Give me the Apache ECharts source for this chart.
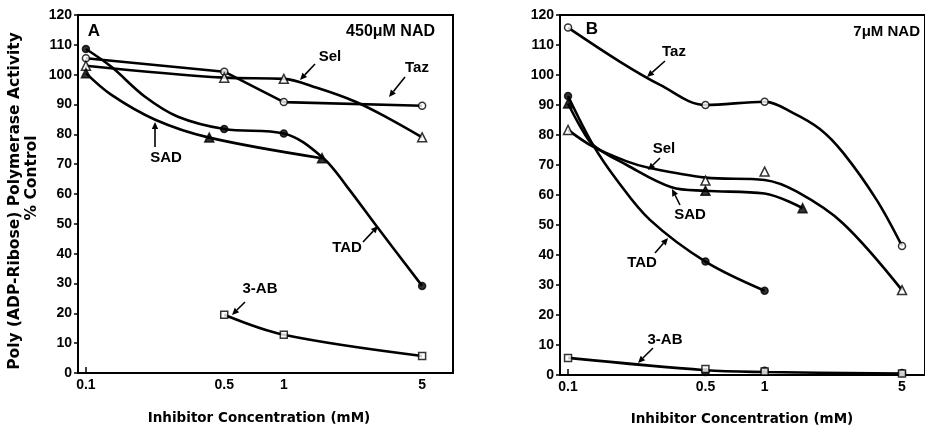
<!DOCTYPE html>
<html><head><meta charset="utf-8">
<script src="https://cdn.jsdelivr.net/npm/echarts@6/dist/echarts.min.js"></script>
<style>html,body{margin:0;padding:0;background:#fff}#c{width:925px;height:430px}</style>
</head><body><div id="c"></div>
<script>
// ---- data (concentration in mM, activity in % control) ----
const xTickLabels = [0.1, 0.5, 1, 5];
const concAll = [0.1, 0.5, 1, 5];

// Panel A: 450 uM NAD — measured points
const tazA = [105.5, 101, 90.8, 89.6];
const selA = [103, 99, 98.6, 79];
const tadA = [108.6, 81.8, 80.3, 29.2];
const sadAConc = [0.1, 0.42, 1.56];
const sadA = [100.5, 78.9, 72];
const abAConc = [0.5, 1, 5];
const abA = [19.5, 12.8, 5.7];
// Panel A — drawn curves
const selACurveConc = [0.1, 0.5, 1, 1.47, 2.29, 3.33, 5];
const selACurve = [103, 99, 98.6, 95.6, 91, 85.6, 79];
const tadACurveConc = [0.1, 0.134, 0.199, 0.292, 0.5, 1, 1.58, 2.09, 2.96, 5];
const tadACurve = [108.6, 102.7, 92.6, 85.9, 81.8, 80.3, 72.1, 62.4, 49, 29.2];
const sadACurveConc = [0.1, 0.134, 0.224, 0.42, 1.56];
const sadACurve = [100.5, 93.3, 84.9, 78.9, 72];
const abACurveConc = [0.5, 1, 5];
const abACurve = [19.5, 12.8, 5.7];

// Panel B: 7 uM NAD — measured points
const tazB = [115.8, 90, 91.1, 43];
const selB = [81.7, 64.8, 67.8, 28.3];
const sadBConc = [0.1, 0.5, 1.56];
const sadB = [90.5, 61.4, 55.6];
const tadBConc = [0.1, 0.5, 1];
const tadB = [93, 37.8, 28.1];
const abB = [5.7, 2, 1.2, 0.5];
const filledBConc = [0.5, 1, 5];
const filledB = [1, 1.4, 0.7];
// Panel B — drawn curves
const tazBCurveConc = [0.1, 0.184, 0.294, 0.5, 1, 1.4, 1.91, 2.5, 3.72, 5];
const tazBCurve = [115.8, 104.4, 96.7, 90, 91.1, 87.3, 82, 74.2, 58.3, 43];
const selBCurveConc = [0.1, 0.134, 0.199, 0.26, 0.5, 1, 1.46, 2.5, 5];
const selBCurve = [81.7, 76.1, 71.2, 69, 65.8, 65, 61.1, 50.6, 28.3];
const sadBCurveConc = [0.1, 0.115, 0.134, 0.199, 0.336, 0.5, 1, 1.56];
const sadBCurve = [90.5, 83, 76.7, 70, 62.6, 61.4, 60.5, 55.6];
const tadBCurveConc = [0.1, 0.134, 0.177, 0.261, 0.5, 1];
const tadBCurve = [93, 76.7, 65, 51.7, 37.8, 28.1];
const abBCurveConc = [0.1, 0.5, 1, 5];
const abBCurve = [5.7, 1.6, 1, 0.5];

const FONT = "'Liberation Sans', Arial, sans-serif";
const TFONT = "'DejaVu Sans', sans-serif";
const lg = v => Math.log10(v);
const pts = (xs, ys) => xs.map((x, i) => [lg(x), ys[i]]);

function curveS(idx, xs, ys, smooth) {
  return {
    type: 'line', xAxisIndex: idx, yAxisIndex: idx,
    data: pts(xs, ys), smooth: smooth, showSymbol: false, symbol: 'none',
    lineStyle: { color: '#000', width: 2.6 },
    emphasis: { disabled: true }, animation: false, z: 3
  };
}
function markS(idx, xs, ys, sym, filled) {
  const size = sym === 'triangle' ? 9 : 7;
  return {
    type: 'scatter', xAxisIndex: idx, yAxisIndex: idx, data: pts(xs, ys),
    symbol: sym, symbolSize: size,
    itemStyle: { color: filled ? '#000' : '#fff', borderColor: '#000', borderWidth: 1.5 },
    emphasis: { disabled: true }, animation: false, z: 4
  };
}

function xAx(idx, min, max) {
  return {
    type: 'value', gridIndex: idx, min, max,
    axisLine: { show: true, onZero: false, lineStyle: { color: '#000', width: 2 } },
    axisTick: { show: true, inside: true, length: 6, customValues: [lg(0.1)], lineStyle: { color: '#000', width: 1.5 } },
    axisLabel: {
      customValues: xTickLabels.map(lg),
      formatter: v => String(Number(Math.pow(10, v).toPrecision(2))),
      color: '#000', fontFamily: FONT, fontWeight: 'bold', fontSize: 14, margin: 5
    },
    splitLine: { show: false }
  };
}
function yAx(idx) {
  return {
    type: 'value', gridIndex: idx, min: 0, max: 120, interval: 10,
    axisLine: { show: true, onZero: false, lineStyle: { color: '#000', width: 2 } },
    axisTick: { show: true, inside: false, length: 4, lineStyle: { color: '#000', width: 1.5 } },
    axisLabel: { color: '#000', fontFamily: FONT, fontWeight: 'bold', fontSize: 14, margin: 6 },
    splitLine: { show: false }
  };
}

function txt(x, y, s, size, align = 'center', rot = 0, fam = FONT) {
  return { type: 'text', x, y, rotation: rot, z: 10,
    style: { text: s, fill: '#000', font: `bold ${size}px ${fam}`, align, verticalAlign: 'middle' } };
}
function arrow(x1, y1, x2, y2) {
  const a = Math.atan2(y2 - y1, x2 - x1), L = 7, W = 3.2;
  const bx = x2 - L * Math.cos(a), by = y2 - L * Math.sin(a);
  const px = -Math.sin(a) * W, py = Math.cos(a) * W;
  return [
    { type: 'line', z: 10, shape: { x1, y1, x2: bx, y2: by }, style: { stroke: '#000', lineWidth: 1.6 } },
    { type: 'polygon', z: 10, shape: { points: [[x2, y2], [bx + px, by + py], [bx - px, by - py]] }, style: { fill: '#000' } }
  ];
}

const graphics = [
  txt(15, 201, 'Poly (ADP-Ribose) Polymerase Activity', 15.5, 'center', Math.PI / 2, TFONT),
  txt(32, 178, '% Control', 15.5, 'center', Math.PI / 2, TFONT),
  txt(259, 418, 'Inhibitor Concentration (mM)', 13.5, 'center', 0, TFONT),
  txt(742, 419, 'Inhibitor Concentration (mM)', 13.5, 'center', 0, TFONT),
  txt(94, 31, 'A', 17),
  txt(435, 32, '450μM NAD', 16, 'right'),
  txt(592, 29, 'B', 17),
  txt(920, 32, '7μM NAD', 15, 'right'),
  // panel A labels
  txt(330, 57, 'Sel', 15), ...arrow(315, 64, 300, 80),
  txt(417, 68, 'Taz', 15), ...arrow(405, 77, 389, 97),
  txt(166, 158, 'SAD', 15), ...arrow(155, 147, 155, 122),
  txt(347, 248, 'TAD', 15), ...arrow(363, 242, 378, 226),
  txt(260, 289, '3-AB', 15), ...arrow(245, 302, 232, 315),
  // panel B labels
  txt(674, 52, 'Taz', 15), ...arrow(665, 61, 647, 77),
  txt(664, 149, 'Sel', 15), ...arrow(660, 158, 648, 170),
  txt(690, 215, 'SAD', 15), ...arrow(680, 205, 672, 189),
  txt(642, 263, 'TAD', 15), ...arrow(655, 253, 668, 238),
  txt(665, 340, '3-AB', 15), ...arrow(653, 348, 638, 363)
];

const chart = echarts.init(document.getElementById('c'), null, { renderer: 'canvas' });
chart.setOption({
  backgroundColor: '#fff',
  animation: false,
  grid: [
    { left: 78, top: 15, right: 472, bottom: 57, show: true, borderColor: '#000', borderWidth: 2, backgroundColor: 'transparent' },
    { left: 560, top: 15, right: -2, bottom: 55, show: true, borderColor: '#000', borderWidth: 2, backgroundColor: 'transparent' }
  ],
  xAxis: [xAx(0, -1.04, 0.855), xAx(1, -1.041, 0.816)],
  yAxis: [yAx(0), yAx(1)],
  series: [
    // Panel A
    curveS(0, concAll, tazA, 0),
    curveS(0, selACurveConc, selACurve, 0.35),
    curveS(0, tadACurveConc, tadACurve, 0.35),
    curveS(0, sadACurveConc, sadACurve, 0.35),
    curveS(0, abACurveConc, abACurve, 0.35),
    markS(0, concAll, tazA, 'circle', false),
    markS(0, concAll, selA, 'triangle', false),
    markS(0, concAll, tadA, 'circle', true),
    markS(0, sadAConc, sadA, 'triangle', true),
    markS(0, abAConc, abA, 'rect', false),
    // Panel B
    curveS(1, tazBCurveConc, tazBCurve, 0.35),
    curveS(1, selBCurveConc, selBCurve, 0.35),
    curveS(1, sadBCurveConc, sadBCurve, 0.35),
    curveS(1, tadBCurveConc, tadBCurve, 0.35),
    curveS(1, abBCurveConc, abBCurve, 0.35),
    markS(1, concAll, tazB, 'circle', false),
    markS(1, concAll, selB, 'triangle', false),
    markS(1, sadBConc, sadB, 'triangle', true),
    markS(1, tadBConc, tadB, 'circle', true),
    markS(1, filledBConc, filledB, 'circle', true),
    markS(1, concAll, abB, 'rect', false)
  ],
  graphic: graphics
});
</script></body></html>
